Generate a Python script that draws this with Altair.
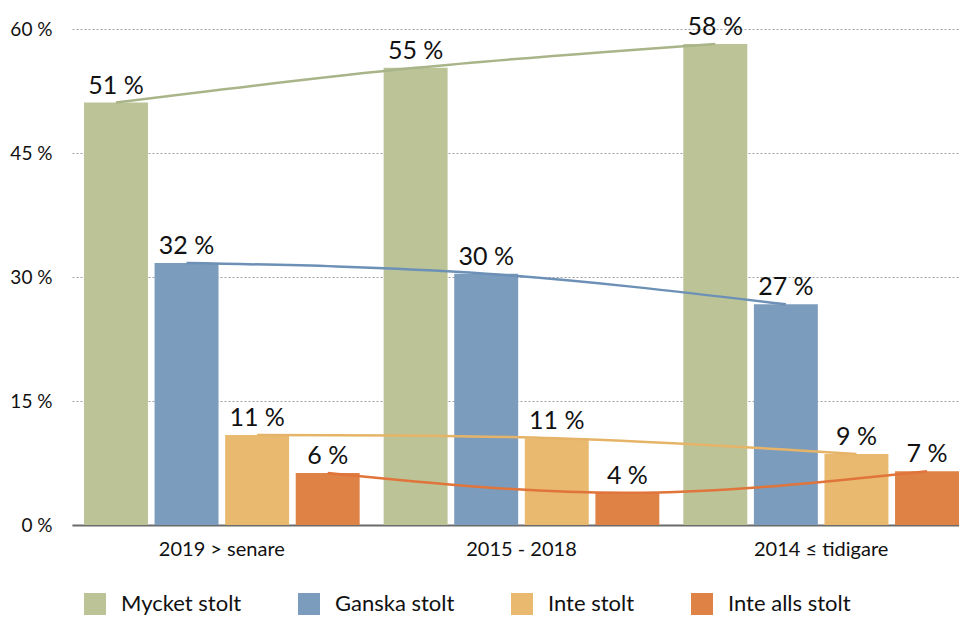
import altair as alt
import pandas as pd

categories = ["2019 > senare", "2015 - 2018", "2014 ≤ tidigare"]
series = ["Mycket stolt", "Ganska stolt", "Inte stolt", "Inte alls stolt"]

mycket = [51.1, 55.3, 58.2]
ganska = [31.7, 30.4, 26.7]
inte = [10.9, 10.5, 8.6]
inte_alls = [6.3, 3.9, 6.5]

mycket_lbl = ["51 %", "55 %", "58 %"]
ganska_lbl = ["32 %", "30 %", "27 %"]
inte_lbl = ["11 %", "11 %", "9 %"]
inte_alls_lbl = ["6 %", "4 %", "7 %"]

y_ticks = [0, 15, 30, 45, 60]

bar_colors = ["#BCC397", "#7B9CBD", "#E8B96E", "#DE8245"]
line_colors = ["#A9B488", "#6C90B6", "#E6B468", "#E0743A"]

rows = []
for s, vals, lbls in zip(series, [mycket, ganska, inte, inte_alls],
                         [mycket_lbl, ganska_lbl, inte_lbl, inte_alls_lbl]):
    for c, v, l in zip(categories, vals, lbls):
        rows.append({"category": c, "series": s, "value": v, "label": l})
df = pd.DataFrame(rows)

FONT = "Lato"

x_enc = alt.X(
    "category:N", sort=categories,
    scale=alt.Scale(paddingInner=0.08, paddingOuter=0.02, align=1),
    axis=alt.Axis(title=None, labelAngle=0, ticks=False, domain=True,
                  domainColor="#6b6b6b", domainWidth=2, labelFontSize=20,
                  labelPadding=14, labelColor="#111", labelFont=FONT),
)
xoff_enc = alt.XOffset("series:N", sort=series,
                       scale=alt.Scale(paddingInner=0.094, paddingOuter=0))
y_enc = alt.Y(
    "value:Q",
    scale=alt.Scale(domain=[0, 60], nice=False),
    axis=alt.Axis(title=None, values=y_ticks, labelExpr="datum.value + ' %'",
                  ticks=False, domain=False, grid=True, gridDash=[2, 2],
                  gridColor="#a0a0a0", labelFontSize=19, labelPadding=20,
                  labelFont=FONT, labelColor="#111"),
)

base = alt.Chart(df).encode(x=x_enc, xOffset=xoff_enc, y=y_enc)

bars = base.mark_bar().encode(
    color=alt.Color(
        "series:N", sort=series,
        scale=alt.Scale(domain=series, range=bar_colors),
        legend=alt.Legend(title=None, orient="none", legendX=12, legendY=564,
                          direction="horizontal", columns=4, columnPadding=56,
                          symbolType="square", symbolSize=484,
                          symbolStrokeWidth=0, labelFontSize=22,
                          labelFont=FONT, labelColor="#111", labelOffset=15,
                          padding=0),
    )
)

lines = base.mark_line(interpolate="natural", strokeWidth=2.5).encode(
    color=alt.Color("series:N", scale=alt.Scale(domain=series, range=line_colors),
                    legend=None)
)

texts = base.mark_text(baseline="alphabetic", dy=-9, fontSize=25, font=FONT,
                       color="#111").encode(text="label:N")

chart = alt.layer(bars, lines, texts).resolve_scale(color="independent").properties(
    width=887, height=496,
    autosize=alt.AutoSizeParams(type="none"),
    padding={"left": 64, "top": 21, "right": 0, "bottom": 92},
).configure_view(stroke=None)

chart.save("out.html", embed_options={"renderer": "svg", "actions": False})
